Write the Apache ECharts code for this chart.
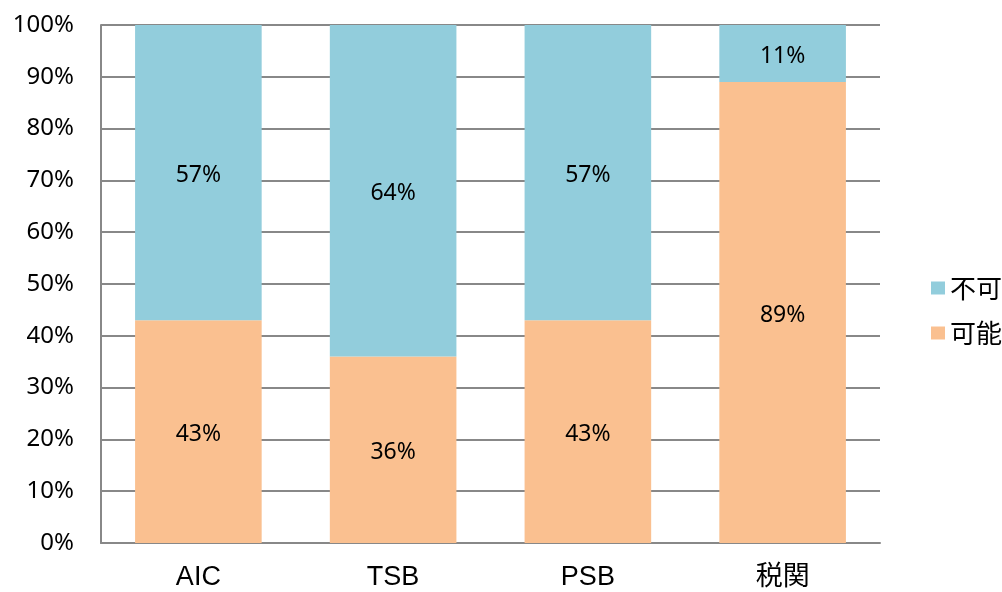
<!DOCTYPE html>
<html><head><meta charset="utf-8">
<script src="https://cdn.jsdelivr.net/npm/echarts@6/dist/echarts.min.js"></script>
<style>html,body{margin:0;padding:0;background:#fff}#c{width:1002px;height:592px}</style>
</head><body><div id="c"></div>
<script>
const categories = ['AIC', 'TSB', 'PSB', '税関'];
const possible = [43, 36, 43, 89];
const impossible = [57, 64, 57, 11];
const seriesNames = ['可能', '不可'];
const chart = echarts.init(document.getElementById('c'), null, {renderer: 'canvas'});
const labelStyle = {show: true, position: 'inside', offset: [0, 3], color: '#000', fontSize: 23, fontFamily: 'Noto Sans, Noto Sans CJK JP', formatter: p => p.value + '%'};
chart.setOption({
  animation: false,
  grid: {left: 101, right: 122, top: 25, bottom: 49, containLabel: false},
  legend: {
    orient: 'vertical', left: 926, top: 270, itemWidth: 14, itemHeight: 13, itemGap: 19,
    data: [seriesNames[1], seriesNames[0]],
    textStyle: {fontSize: 26, color: '#000', fontFamily: 'Noto Sans CJK JP'},
    icon: 'rect'
  },
  xAxis: {
    type: 'category', data: categories,
    axisLine: {lineStyle: {color: '#888', width: 2}},
    axisTick: {show: false},
    axisLabel: {fontSize: 27, color: '#000', margin: 21, fontFamily: 'Liberation Sans, Noto Sans CJK JP'}
  },
  yAxis: {
    type: 'value', min: 0, max: 100, interval: 10,
    axisLine: {show: true, lineStyle: {color: '#888', width: 2}},
    axisTick: {show: false},
    splitLine: {lineStyle: {color: '#888', width: 2}},
    axisLabel: {fontSize: 24, color: '#000', margin: 27, formatter: '{value}%', fontFamily: 'Noto Sans'}
  },
  series: [
    {name: seriesNames[0], type: 'bar', stack: 's', data: possible, barCategoryGap: '35%', itemStyle: {color: '#FAC090'}, label: labelStyle},
    {name: seriesNames[1], type: 'bar', stack: 's', data: impossible, barCategoryGap: '35%', itemStyle: {color: '#92CDDC'}, label: labelStyle}
  ]
});
</script></body></html>
